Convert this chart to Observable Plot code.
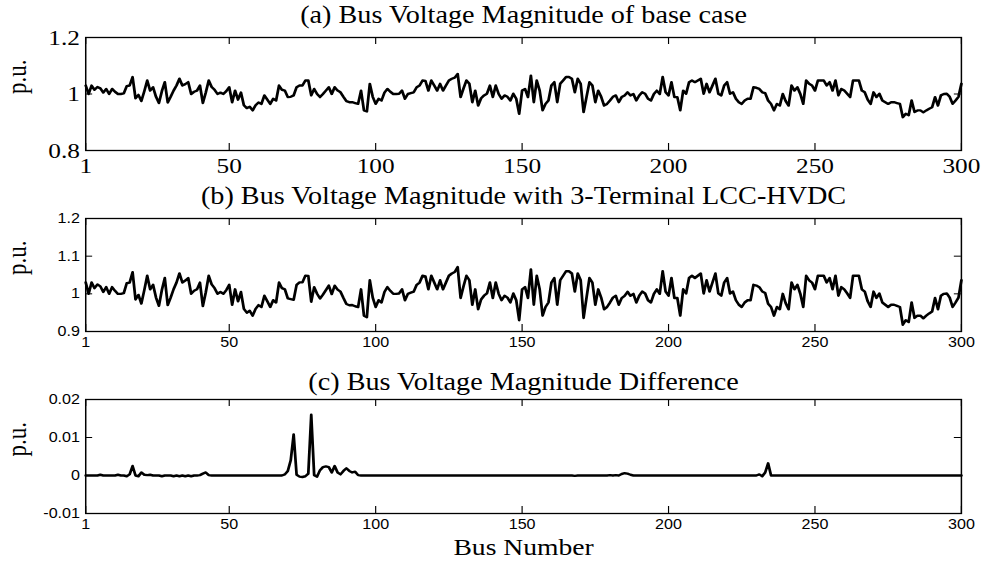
<!DOCTYPE html>
<html><head><meta charset="utf-8">
<script src="https://cdn.jsdelivr.net/npm/d3@7"></script>
<script src="https://cdn.jsdelivr.net/npm/@observablehq/plot@0.6"></script>
<style>
html,body{margin:0;padding:0;background:#fff;}
#fig{width:985px;height:561px;overflow:hidden;background:#fff;}
#fig svg{display:block;background:#fff;}
</style></head><body><div id="fig"></div>
<script>
// ---------- data ----------
const xTicks = [1, 50, 100, 150, 200, 250, 300];
const yTicksA = [0.8, 1, 1.2];
const yTicksB = [0.9, 1, 1.1, 1.2];
const yTicksC = [-0.01, 0, 0.01, 0.02];
const titleA = "(a) Bus Voltage Magnitude of base case";
const titleB = "(b) Bus Voltage Magnitude with 3-Terminal LCC-HVDC";
const titleC = "(c) Bus Voltage Magnitude Difference";
const yLabel = "p.u.";
const xLabel = "Bus Number";

// (a) base case voltage magnitude, buses 1..300
const voltBase = [
1.030,1.000,1.030,1.015,1.025,1.020,1.005,1.018,1.000,1.018,
1.008,1.000,1.000,1.002,1.028,1.030,1.060,0.985,0.997,0.975,
1.010,1.048,1.012,1.024,0.990,0.968,1.010,1.042,0.970,0.990,
1.012,1.030,1.054,1.030,1.035,1.042,1.000,1.008,1.012,1.030,
0.968,1.005,1.048,1.025,1.015,1.000,1.005,1.000,1.010,1.024,
0.971,1.012,0.980,1.005,0.960,0.950,0.955,0.942,0.960,0.970,
0.965,0.995,0.980,0.965,0.983,0.977,1.030,1.015,1.012,0.989,
0.990,0.995,1.024,1.030,1.030,1.048,1.048,0.995,1.018,1.000,
0.989,1.000,1.012,1.024,1.000,1.024,1.012,1.006,0.990,0.975,
0.971,0.971,0.968,0.965,1.012,0.942,0.938,1.036,0.990,0.965,
0.983,0.977,1.005,1.018,1.008,1.000,1.000,1.001,1.012,0.983,
1.000,1.003,1.006,1.024,1.030,1.048,1.046,1.012,1.048,1.030,
1.012,1.036,1.012,1.030,1.048,1.054,1.058,1.071,0.989,1.020,
1.048,1.036,0.971,1.012,0.959,0.985,0.995,1.001,1.030,0.989,
1.030,1.000,0.983,0.995,0.990,0.977,1.001,0.983,0.930,1.012,
1.018,0.989,1.065,0.971,1.048,1.012,0.942,0.965,0.977,1.030,
1.042,0.971,1.036,1.048,1.060,1.060,1.054,1.006,1.054,1.036,
0.936,0.990,1.042,1.030,0.971,1.012,0.990,0.959,0.965,0.977,
0.990,0.995,0.971,0.989,0.995,1.006,0.995,1.000,0.977,0.995,
1.006,1.001,0.983,0.977,1.000,1.012,1.000,1.060,1.006,0.995,
1.042,0.989,0.989,0.942,1.012,1.001,1.042,1.048,1.042,1.048,
1.054,1.001,1.036,1.006,1.030,1.054,1.001,0.995,1.030,1.042,
1.001,1.006,0.983,0.971,0.965,0.977,0.983,0.983,1.024,1.022,
1.018,1.006,1.003,0.977,0.965,0.942,0.965,0.959,1.000,0.975,
0.959,1.030,1.012,1.024,1.000,0.965,1.048,1.036,1.030,1.012,
1.048,1.048,1.048,1.030,1.042,1.012,1.048,0.995,1.018,1.012,
1.001,0.989,1.048,1.048,1.048,1.012,1.006,0.980,0.965,1.006,
0.989,1.001,0.977,0.971,0.965,0.971,0.971,0.968,0.965,0.918,
0.930,0.925,0.977,0.936,0.942,0.942,0.935,0.942,0.948,0.953,
0.989,0.959,0.995,1.000,1.001,0.990,0.965,0.977,0.990,1.036
];

// (b) with 3-terminal LCC-HVDC, buses 1..300
const voltHvdc = [
1.030,1.000,1.030,1.015,1.025,1.0198,1.005,1.018,1.000,1.018,
1.008,0.9998,1.000,1.002,1.0282,1.0297,1.0575,0.985,0.9972,0.9742,
1.0098,1.0479,1.0118,1.024,0.990,0.968,1.0102,1.042,0.970,0.990,
1.0122,1.030,1.0542,1.030,1.0352,1.042,1.0002,1.008,1.012,1.0299,
0.9675,1.0042,1.0479,1.025,1.015,1.000,1.005,1.000,1.010,1.024,
0.971,1.012,0.980,1.005,0.960,0.950,0.955,0.942,0.960,0.970,
0.965,0.995,0.980,0.965,0.983,0.977,1.030,1.015,1.0117,0.9878,
0.9860,0.9842,1.0238,1.0303,1.0304,1.0482,1.0475,0.9790,1.0179,1.0003,
0.9876,0.9978,1.0096,1.0218,0.9992,1.0215,1.0112,1.0057,0.9888,0.9731,
0.9698,0.9702,0.9670,0.9649,1.012,0.942,0.938,1.036,0.990,0.965,
0.983,0.977,1.005,1.018,1.008,1.000,1.000,1.001,1.012,0.983,
1.000,1.003,1.006,1.024,1.030,1.048,1.046,1.012,1.048,1.030,
1.012,1.036,1.012,1.030,1.048,1.054,1.058,1.071,0.989,1.020,
1.048,1.036,0.971,1.012,0.959,0.985,0.995,1.001,1.030,0.989,
1.030,1.000,0.983,0.995,0.990,0.977,1.001,0.983,0.930,1.012,
1.018,0.989,1.065,0.971,1.048,1.012,0.942,0.965,0.977,1.030,
1.042,0.971,1.036,1.048,1.060,1.060,1.054,1.0061,1.054,1.036,
0.936,0.990,1.042,1.030,0.971,1.012,0.990,0.959,0.965,0.9769,
0.990,0.9949,0.971,0.9886,0.9944,1.0055,0.9948,1.000,0.977,0.995,
1.006,1.001,0.983,0.977,1.000,1.012,1.000,1.060,1.006,0.995,
1.042,0.989,0.989,0.942,1.012,1.001,1.042,1.048,1.042,1.048,
1.054,1.001,1.036,1.006,1.030,1.054,1.001,0.995,1.030,1.042,
1.001,1.006,0.983,0.971,0.965,0.977,0.983,0.983,1.024,1.022,
1.0177,1.0062,1.0022,0.9738,0.965,0.942,0.965,0.959,1.000,0.975,
0.959,1.030,1.012,1.024,1.000,0.965,1.048,1.036,1.030,1.012,
1.048,1.048,1.048,1.030,1.042,1.012,1.048,0.995,1.018,1.012,
1.001,0.989,1.048,1.048,1.048,1.012,1.006,0.980,0.965,1.006,
0.989,1.001,0.977,0.971,0.965,0.971,0.971,0.968,0.965,0.918,
0.930,0.925,0.977,0.936,0.942,0.942,0.935,0.942,0.948,0.953,
0.989,0.959,0.995,1.000,1.001,0.990,0.965,0.977,0.990,1.036
];

// (c) difference, buses 1..300
const voltDiff = [
0,0,0,0,0,0.0002,0,0,0,0,
0,0.0002,0,0,-0.0002,0.0003,0.0025,0,-0.0002,0.0008,
0.0002,0.0001,0.0002,0,0,0,-0.0002,0,0,0,
-0.0002,0,-0.0002,0,-0.0002,0,-0.0002,0,0,0.0001,
0.0005,0.0008,0.0001,0,0,0,0,0,0,0,
0,0,0,0,0,0,0,0,0,0,
0,0,0,0,0,0,0,0,0.0003,0.0012,
0.0040,0.0108,0.0002,-0.0003,-0.0004,-0.0002,0.0005,0.0160,0.0001,-0.0003,
0.0014,0.0022,0.0024,0.0022,0.0008,0.0025,0.0008,0.0003,0.0012,0.0019,
0.0012,0.0008,0.0010,0.0001,0,0,0,0,0,0,
0,0,0,0,0,0,0,0,0,0,
0,0,0,0,0,0,0,0,0,0,
0,0,0,0,0,0,0,0,0,0,
0,0,0,0,0,0,0,0,0,0,
0,0,0,0,0,0,0,0,0,0,
0,0,0,0,0,0,0,0,0,0,
0,0,0,0,0,0,0,-0.0001,0,0,
0,0,0,0,0,0,0,0,0,0.0001,
0,0.0001,0,0.0004,0.0006,0.0005,0.0002,0,0,0,
0,0,0,0,0,0,0,0,0,0,
0,0,0,0,0,0,0,0,0,0,
0,0,0,0,0,0,0,0,0,0,
0,0,0,0,0,0,0,0,0,0,
0.0003,-0.0002,0.0008,0.0032,0,0,0,0,0,0,
0,0,0,0,0,0,0,0,0,0,
0,0,0,0,0,0,0,0,0,0,
0,0,0,0,0,0,0,0,0,0,
0,0,0,0,0,0,0,0,0,0,
0,0,0,0,0,0,0,0,0,0,
0,0,0,0,0,0,0,0,0,0
];

// ---------- drawing ----------
const SERIF = "'Liberation Serif', 'Times New Roman', serif";
const SANS = "'Liberation Sans', Arial, sans-serif";
const OUT_W = 985;          // final width
const W = 856;              // drawing width (stretched horizontally to OUT_W, like the source figure)
const S = OUT_W / W;
const ML = 74, MR = 21, MT = 37;

function panel({values, title, yDomain, yTicks, tickFont, tickFontSize, height, marginBottom, titleGap, xPad, withXLabel}) {
  const data = values.map((v, i) => ({bus: i + 1, v}));
  const innerW = W - ML - MR;
  const innerH = height - MT - marginBottom;
  const ky = (yDomain[1] - yDomain[0]) * 7 / innerH;
  const kx = (xTicks[xTicks.length - 1] - xTicks[0]) * (7 / S) / innerW;
  const x0 = xTicks[0], x1 = xTicks[xTicks.length - 1];
  const marks = [
    Plot.ruleX(xTicks, {x: d => d, y1: yDomain[0], y2: yDomain[0] + ky, stroke: "black", strokeWidth: 1}),
    Plot.ruleX(xTicks, {x: d => d, y1: yDomain[1] - ky, y2: yDomain[1], stroke: "black", strokeWidth: 1}),
    Plot.ruleY(yTicks, {y: d => d, x1: x0, x2: x0 + kx, stroke: "black", strokeWidth: 1}),
    Plot.ruleY(yTicks, {y: d => d, x1: x1 - kx, x2: x1, stroke: "black", strokeWidth: 1}),
    Plot.line(data, {x: "bus", y: "v", stroke: "black", strokeWidth: 2.4, strokeLinejoin: "round"}),
    Plot.frame({stroke: "black", strokeWidth: 1.3}),
    Plot.axisX({ticks: xTicks, tickSize: 0, tickPadding: xPad, tickFormat: d => String(d), label: null,
      fontSize: tickFontSize, fontFamily: tickFont, fill: "black"}),
    Plot.axisY({ticks: yTicks, tickSize: 0, tickPadding: 5, tickFormat: d => String(d), label: null,
      fontSize: tickFontSize, fontFamily: tickFont, fill: "black"}),
    Plot.text([title], {frameAnchor: "top", dy: -titleGap, lineAnchor: "bottom", fontSize: 24.5, fontFamily: SERIF, fill: "black"}),
    Plot.text([yLabel], {frameAnchor: "left", dx: -(85 - 17) / S, rotate: -90, fontSize: 23, fontFamily: SERIF, fill: "black"})
  ];
  if (withXLabel) {
    marks.push(Plot.text([xLabel], {frameAnchor: "bottom", dy: 41, lineAnchor: "bottom", fontSize: 24, fontFamily: SERIF, fill: "black"}));
  }
  const svg = Plot.plot({
    width: W, height,
    marginLeft: ML, marginRight: MR, marginTop: MT, marginBottom,
    x: {domain: [x0, x1]},
    y: {domain: yDomain},
    style: {background: "white", color: "black"},
    marks
  });
  svg.setAttribute("preserveAspectRatio", "none");
  svg.setAttribute("width", OUT_W);
  svg.style.width = OUT_W + "px";
  svg.style.height = height + "px";
  svg.style.maxWidth = "none";
  return svg;
}

const fig = document.getElementById("fig");
fig.appendChild(panel({values: voltBase, title: titleA, yDomain: [0.8, 1.2], yTicks: yTicksA,
  tickFont: SERIF, tickFontSize: 22, height: 181, marginBottom: 31, titleGap: 14.5, xPad: 7}));
fig.appendChild(panel({values: voltHvdc, title: titleB, yDomain: [0.9, 1.2], yTicks: yTicksB,
  tickFont: SANS, tickFontSize: 14, height: 181, marginBottom: 31, titleGap: 15, xPad: 6}));
fig.appendChild(panel({values: voltDiff, title: titleC, yDomain: [-0.01, 0.02], yTicks: yTicksC,
  tickFont: SANS, tickFontSize: 14, height: 199, marginBottom: 48, titleGap: 10, xPad: 6, withXLabel: true}));
</script>
</body></html>
